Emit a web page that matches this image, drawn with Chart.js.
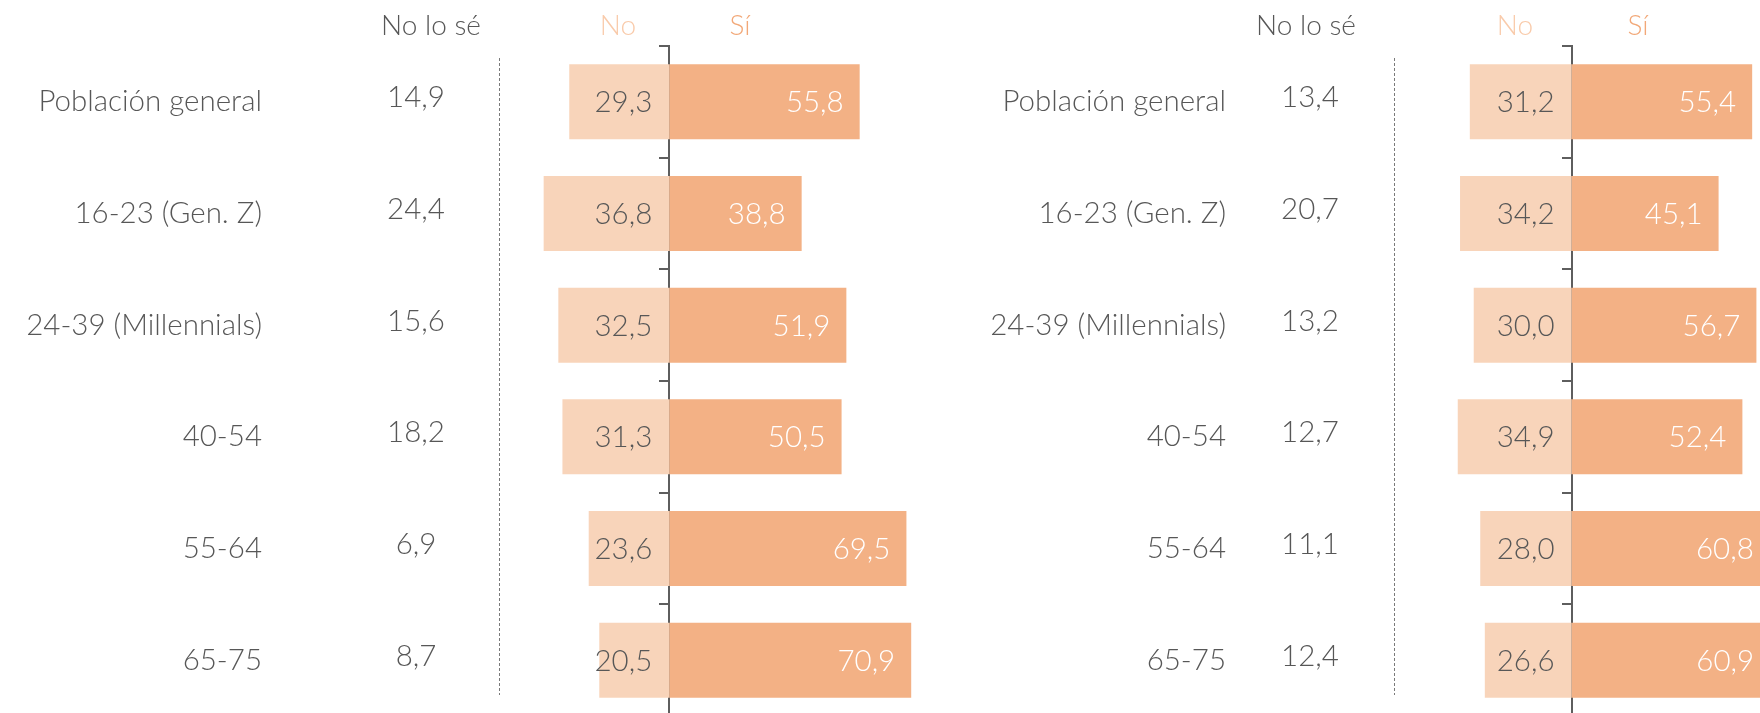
<!DOCTYPE html>
<html><head><meta charset="utf-8">
<script src="https://cdn.jsdelivr.net/npm/chart.js@4"></script>
<style>
html,body{margin:0;padding:0;background:#fff;overflow:hidden;width:1760px;height:713px}
#wrap{position:relative;width:1760px;height:713px;overflow:hidden}
canvas{position:absolute;top:0}
</style></head><body>
<div id="wrap">
<canvas id="left" width="960" height="720" style="left:0"></canvas>
<canvas id="right" width="800" height="720" style="left:960px"></canvas>
</div>
<script>
const categories = ["Población general", "16-23 (Gen. Z)", "24-39 (Millennials)", "40-54", "55-64", "65-75"];
const noSeLeft = [14.9, 24.4, 15.6, 18.2, 6.9, 8.7];
const noLeft = [29.3, 36.8, 32.5, 31.3, 23.6, 20.5];
const siLeft = [55.8, 38.8, 51.9, 50.5, 69.5, 70.9];
const noSeRight = [13.4, 20.7, 13.2, 12.7, 11.1, 12.4];
const noRight = [31.2, 34.2, 30.0, 34.9, 28.0, 26.6];
const siRight = [55.4, 45.1, 56.7, 52.4, 60.8, 60.9];
const headers = ["No lo sé", "No", "Sí"];

const FONT = "300 29.5px Lato, 'Open Sans', sans-serif";
const HFONT = "300 28px Lato, 'Open Sans', sans-serif";
const GREY = "#575757";
const NO_COL = "#f8d4ba", SI_COL = "#f3b185";
const fmt = v => v.toFixed(1).replace(".", ",");

function makePanel(id, noSe, no, si, lay) {
  const textPlugin = {
    id: "texts",
    afterDraw(chart) {
      const ctx = chart.ctx, xs = chart.scales.x, ys = chart.scales.y;
      ctx.save();
      ctx.textBaseline = "middle";
      // headers
      ctx.font = HFONT;
      ctx.textAlign = "center";
      ctx.fillStyle = GREY; ctx.fillText(headers[0], lay.hdr[0], 26);
      ctx.fillStyle = "#f9cbab"; ctx.fillText(headers[1], lay.hdr[1], 26);
      ctx.fillStyle = "#f2a878"; ctx.fillText(headers[2], lay.hdr[2], 26);
      // dashed separator
      ctx.strokeStyle = "#7a7a7a"; ctx.lineWidth = 1; ctx.setLineDash([3, 2]);
      ctx.beginPath(); ctx.moveTo(lay.dash, 58); ctx.lineTo(lay.dash, 695); ctx.stroke();
      ctx.setLineDash([]);
      ctx.font = FONT;
      const x0 = xs.getPixelForValue(0);
      categories.forEach((c, i) => {
        const y = ys.getPixelForValue(i);
        ctx.fillStyle = GREY;
        ctx.textAlign = "right"; ctx.fillText(c, lay.label, y);
        ctx.textAlign = "center"; ctx.fillText(fmt(noSe[i]), lay.noSe, y - 4);
        ctx.textAlign = "right"; ctx.fillText(fmt(no[i]), x0 - 17, y + 1);
        ctx.fillStyle = "#fff";
        ctx.fillText(fmt(si[i]), xs.getPixelForValue(si[i]) - 16, y + 1);
      });
      ctx.restore();
    }
  };
  return new Chart(document.getElementById(id), {
    type: "bar",
    data: { labels: categories, datasets: [
      { label: "No", data: no.map(v => -v), backgroundColor: NO_COL },
      { label: "Sí", data: si, backgroundColor: SI_COL }
    ]},
    options: {
      responsive: false, animation: false, indexAxis: "y",
      barPercentage: 0.672, categoryPercentage: 1,
      layout: { padding: { left: 300, right: 0, top: 46, bottom: 4 } },
      plugins: { legend: { display: false }, tooltip: { enabled: false } },
      scales: {
        x: { display: false, stacked: true, min: lay.min, max: lay.max },
        y: { stacked: true, position: { x: 0 }, z: 1,
             ticks: { display: false },
             grid: { drawOnChartArea: false, tickLength: 9, color: "#5e5e5e", lineWidth: 2 },
             border: { color: "#5e5e5e", width: 2 } }
      }
    },
    plugins: [textPlugin]
  });
}

document.fonts.load(FONT).finally(() => {
  makePanel("left", noSeLeft, noLeft, siLeft,
    { min: -108.2, max: 85.2, label: 262, noSe: 416, dash: 499.5, hdr: [431, 618, 740] });
  makePanel("right", noSeRight, noRight, siRight,
    { min: -95.55, max: 57.8, label: 266, noSe: 350, dash: 434.5, hdr: [346, 555, 678] });
});
</script>
</body></html>
